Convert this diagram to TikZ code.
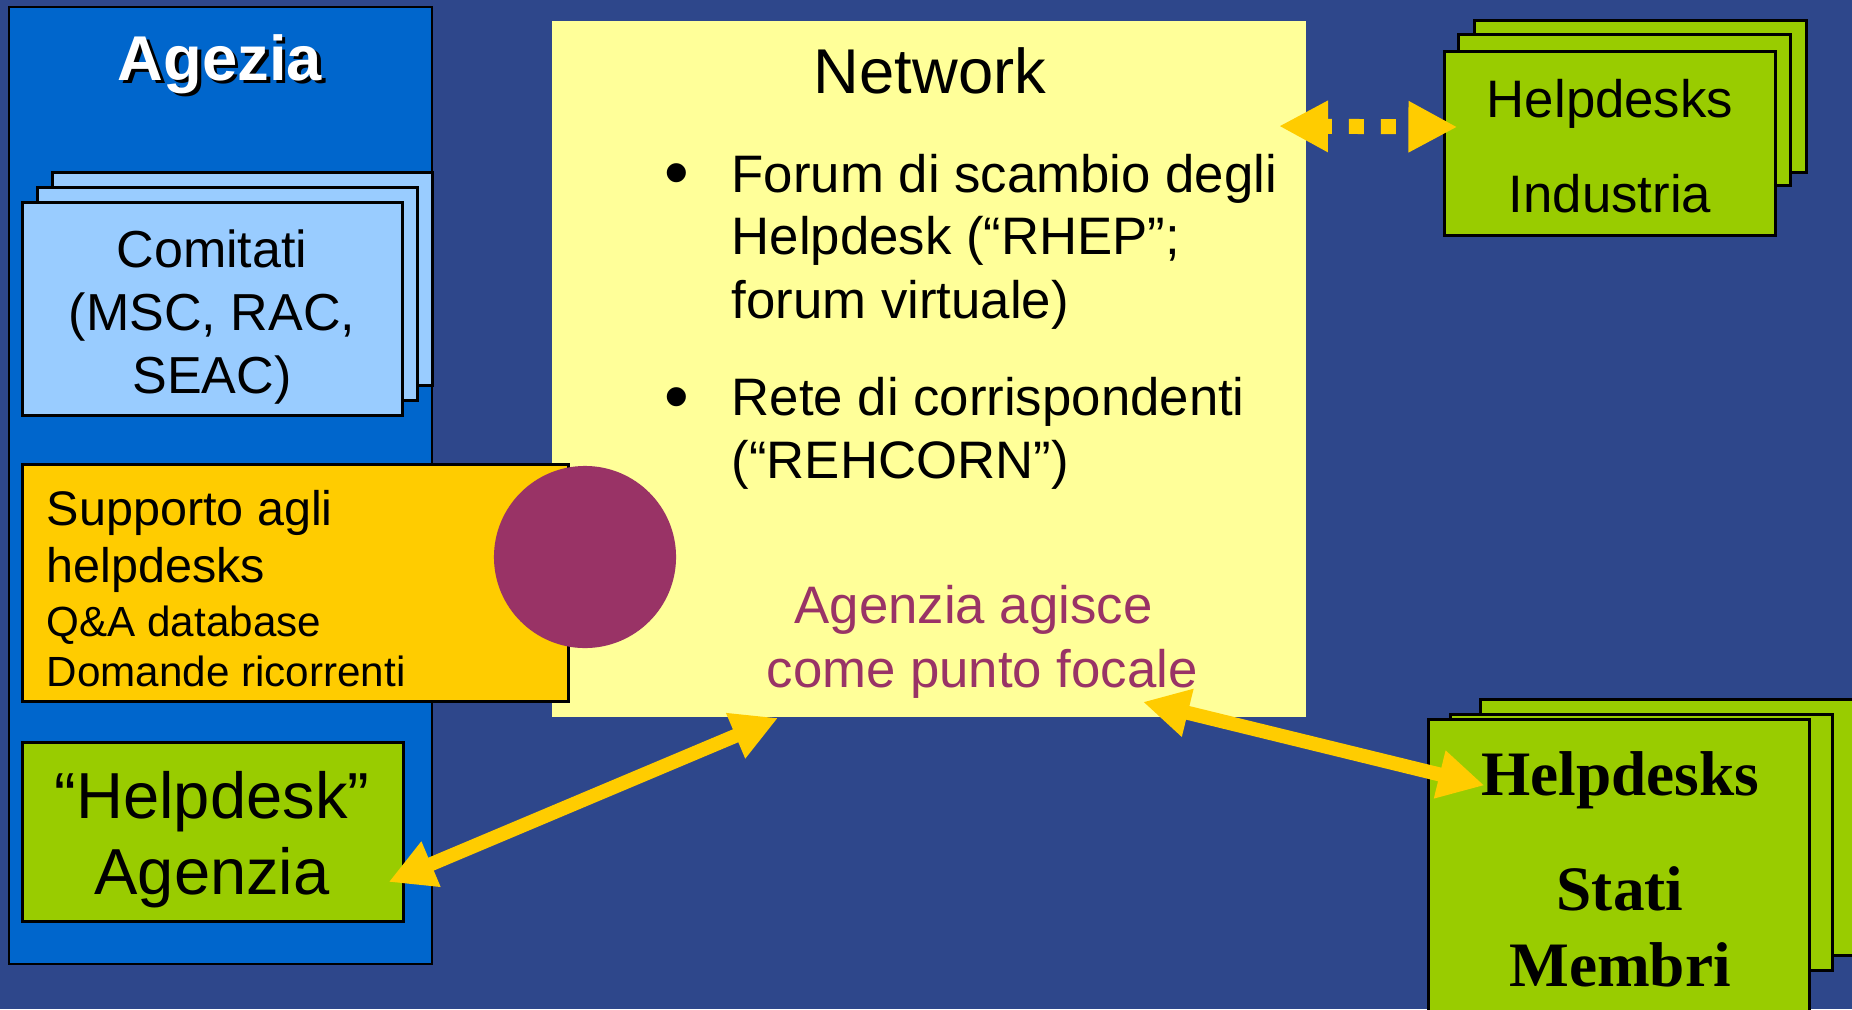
\documentclass[tikz,border=0pt]{standalone}
\usepackage{fontspec}
\setmainfont{Liberation Sans}
\newfontfamily\timesfont{Liberation Serif}
\usepackage{tikz}
\usetikzlibrary{arrows.meta, calc}
\definecolor{bgblue}{RGB}{46,71,139}
\definecolor{panelblue}{HTML}{0066CC}
\definecolor{skyblue}{HTML}{99CCFF}
\definecolor{paleyellow}{HTML}{FFFF99}
\definecolor{gold}{HTML}{FFCC00}
\definecolor{limegreen}{HTML}{99CC00}
\definecolor{plum}{HTML}{993366}

\begin{document}
\begin{tikzpicture}[x=0.01cm, y=-0.01cm]

        % Setup the styles for boxes, texts and arrows
        \tikzset{box/.style={rectangle, draw=black, line width=0.03cm, inner sep=0pt},
                 greenbox/.style={box, fill=limegreen},
                 txt/.style={anchor=base, inner sep=0pt},
                 bodytxt/.style={txt, font=\fontsize{15}{18}\selectfont},
                 bigtxt/.style={txt, font=\fontsize{18}{22}\selectfont},
                 flow/.style={draw=gold, line width=0.14cm, <->,
                              >={Triangle[length=0.46cm, width=0.46cm]}}}

        % Background
        \useasboundingbox (0,0) rectangle (1852,1009);
        \fill[bgblue] (0,0) rectangle (1852,1009);
        \clip (0,0) rectangle (1852,1009);

        % Draw the agency column
        \node[box, line width=0.02cm, fill=panelblue,
              minimum width=4.23cm, minimum height=9.57cm] at (220.5,485.5) (agezia) {};
        \node[bigtxt, font=\fontsize{18}{22}\selectfont\bfseries, text=black] at (223.5,83) (agshadow) {Agezia};
        \node[bigtxt, font=\fontsize{18}{22}\selectfont\bfseries, text=white] at (220,80) (agtitle) {Agezia};

        % Draw the network box
        \node[rectangle, fill=paleyellow, minimum width=7.54cm, minimum height=6.96cm] at (929,369) (network) {};
        \node[bigtxt] at (930,93) (nettitle) {Network};
        \node[txt, font=\fontsize{20}{24}\selectfont] at (677,196) (bulleta) {\textbullet};
        \node[txt, font=\fontsize{20}{24}\selectfont] at (677,420) (bulletb) {\textbullet};
        \foreach \line/\yy [count=\i] in {{Forum di scambio degli}/192, {Helpdesk (“RHEP”;}/254,
                                          {forum virtuale)}/318, {Rete di corrispondenti}/415, {(“REHCORN”)}/478}
            \node[bodytxt, anchor=base west] at (731,\yy) (item\i) {\line};
        \node[bodytxt, anchor=base west, text=plum] at (794,623) (focala) {Agenzia agisce};
        \node[bodytxt, anchor=base west, text=plum] at (766,687) (focalb) {come punto focale};

        % Draw the committees
        \foreach \dd/\nm in {30/comback, 15/commid, 0/comfront}
            \node[box, fill=skyblue, minimum width=3.79cm, minimum height=2.12cm] at (212.5+\dd,309-\dd) (\nm) {};
        \foreach \line/\yy [count=\i] in {Comitati/267, {(MSC, RAC,}/330, {SEAC)}/393}
            \node[txt, font=\fontsize{14.8}{18}\selectfont] at (212,\yy) (comtxt\i) {\line};

        % Draw the support box and the focal point
        \node[box, fill=gold, minimum width=5.45cm, minimum height=2.36cm] at (295.5,583) (support) {};
        \node[txt, anchor=base west, font=\fontsize{13.8}{16}\selectfont] at (46,525) (supa) {Supporto agli};
        \node[txt, anchor=base west, font=\fontsize{13.8}{16}\selectfont] at (46,582) (supb) {helpdesks};
        \node[txt, anchor=base west, font=\fontsize{12}{14}\selectfont] at (46,636) (supc) {Q\&A database};
        \node[txt, anchor=base west, font=\fontsize{12}{14}\selectfont] at (46,686) (supd) {Domande ricorrenti};
        \node[circle, fill=plum, minimum size=1.82cm, inner sep=0pt] at (585,557) (focus) {};

        % Draw the agency helpdesk
        \node[greenbox, minimum width=3.8cm, minimum height=1.78cm] at (213,832) (hdagency) {};
        \node[txt, font=\fontsize{18.5}{22}\selectfont] at (212,818) (hdaga) {“Helpdesk”};
        \node[txt, font=\fontsize{18.5}{22}\selectfont] at (212,894) (hdagb) {Agenzia};

        % Draw the industry helpdesks
        \node[greenbox, minimum width=3.31cm, minimum height=1.51cm] at (1640.5,96.5) (indback) {};
        \node[greenbox, minimum width=3.31cm, minimum height=1.50cm] at (1624.5,110) (indmid) {};
        \node[greenbox, minimum width=3.30cm, minimum height=1.83cm] at (1610,143.5) (indfront) {};
        \node[bodytxt] at (1610,117) (inda) {Helpdesks};
        \node[bodytxt] at (1610,212) (indb) {Industria};

        % Draw the member state helpdesks
        \node[greenbox, minimum width=3.81cm, minimum height=2.55cm] at (1671.5,827.5) (msback) {};
        \node[greenbox, minimum width=3.81cm, minimum height=2.55cm] at (1641.5,842.5) (msmid) {};
        \node[greenbox, minimum width=3.80cm, minimum height=3.10cm] at (1619,875) (msfront) {};
        \foreach \line/\yy [count=\i] in {Helpdesks/795, Stati/910, Membri/986}
            \node[txt, font=\fontsize{18}{22}\timesfont\bfseries] at (1620,\yy) (mstxt\i) {\line};

        % Connect the boxes with arrows
        \draw[flow] ([shift={(-16,50)}]hdagency.east) -- ([shift={(-151,0)}]network.south);
        \draw[flow] ([shift={(214,-16)}]network.south) -- ([shift={(57,67)}]msfront.north west);
        \draw[flow, line width=0.15cm, dash pattern=on 0.15cm off 0.17cm, dash phase=0.08cm,
              >={Triangle[length=0.49cm, width=0.48cm]}]
            ([shift={(-28,106)}]network.north east) -- ([shift={(14,-16.5)}]indfront.west);

\end{tikzpicture}
\end{document}
